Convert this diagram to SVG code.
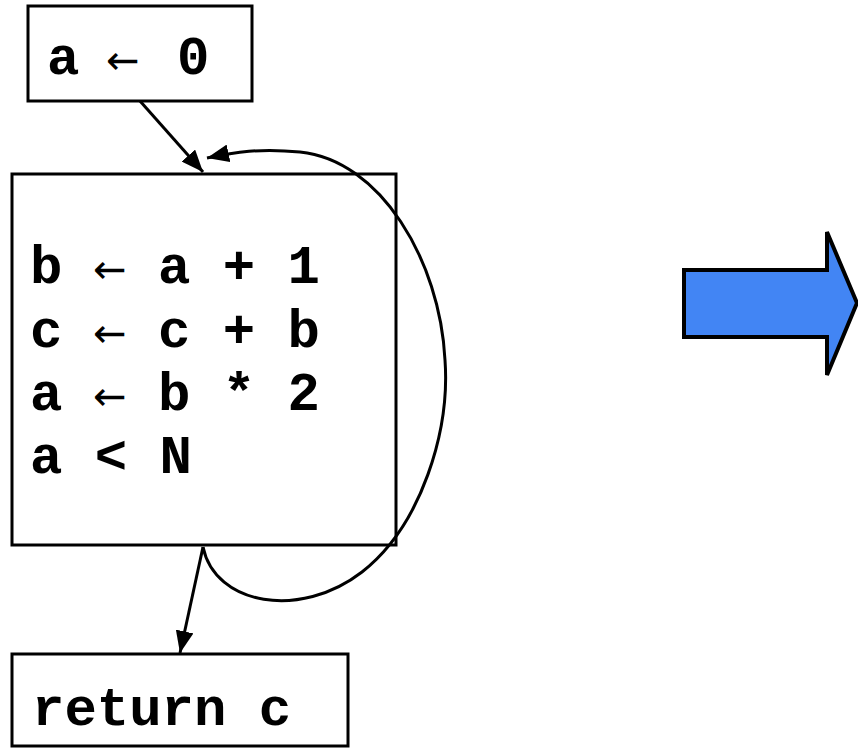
<svg xmlns="http://www.w3.org/2000/svg" width="858" height="749" viewBox="0 0 858 749">
  <style>
    .box { fill: #ffffff; stroke: #000000; stroke-width: 3; }
    .code { font-family: "Liberation Mono", "DejaVu Sans Mono", monospace; font-weight: bold; font-size: 54px; fill: #000000; }
    .op { font-family: "DejaVu Sans", "Liberation Sans", sans-serif; font-weight: normal; font-size: 40px; fill: #000000; }
    .edge { fill: none; stroke: #000000; stroke-width: 3; }
  </style>
  <defs>
    <marker id="head" markerUnits="userSpaceOnUse" markerWidth="24" markerHeight="18" refX="22" refY="9" orient="auto">
      <path d="M0,0 L22,9 L0,18 Z" fill="#000000"/>
    </marker>
  </defs>

  <g id="entry">
    <rect class="box" x="28" y="6" width="224" height="95"/>
    <text class="code" y="74"><tspan x="47">a</tspan><tspan class="op" x="106" y="74">←</tspan><tspan x="177" y="74">0</tspan></text>
  </g>

  <g id="loop-body">
    <rect class="box" x="12" y="174" width="384" height="371"/>
    <text class="code" y="283"><tspan x="30">b</tspan><tspan class="op" x="93" y="283">←</tspan><tspan x="158" y="283">a + 1</tspan></text>
    <text class="code" y="347"><tspan x="30">c</tspan><tspan class="op" x="93" y="347">←</tspan><tspan x="158" y="347">c + b</tspan></text>
    <text class="code" y="410"><tspan x="30">a</tspan><tspan class="op" x="93" y="410">←</tspan><tspan x="158" y="410">b * 2</tspan></text>
    <text class="code" x="30" y="473">a &lt; N</text>
  </g>

  <g id="exit">
    <rect class="box" x="12" y="654" width="336" height="92"/>
    <text class="code" x="32" y="725">return c</text>
  </g>

  <g id="connectors">
    <line class="edge" x1="140" y1="101" x2="203" y2="172" marker-end="url(#head)"/>
    <path class="edge" d="M203,547 C215,605 300,620 362,572 C422,525 450,430 445,360 C440,260 380,160 300,152 C260,148 235,152 207,158" marker-end="url(#head)"/>
    <line class="edge" x1="203" y1="547" x2="180" y2="653" marker-end="url(#head)"/>
  </g>

  <g id="transform-arrow">
    <polygon points="684,270 827,270 827,232 857,303 827,375 827,337 684,337" fill="#4285F4" stroke="#000000" stroke-width="4"/>
  </g>
</svg>
